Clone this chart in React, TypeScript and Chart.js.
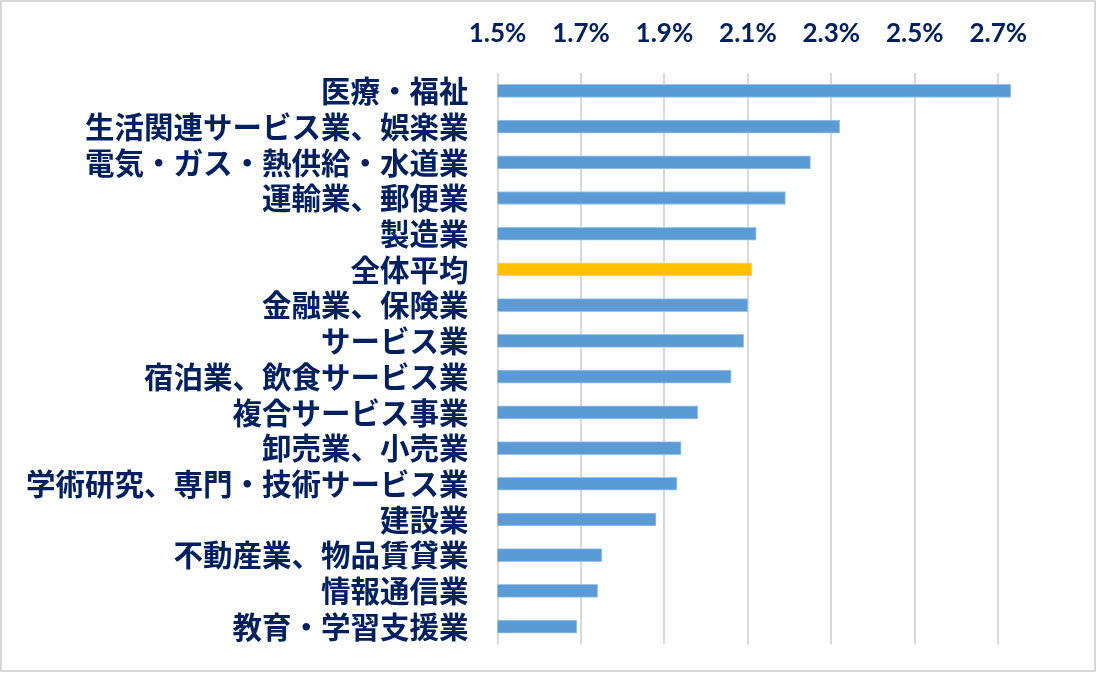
import React, { useEffect, useRef } from "react";
import { Chart, registerables } from "chart.js";

Chart.register(...registerables);

const categories: string[] = [
  "医療・福祉",
  "生活関連サービス業、娯楽業",
  "電気・ガス・熱供給・水道業",
  "運輸業、郵便業",
  "製造業",
  "全体平均",
  "金融業、保険業",
  "サービス業",
  "宿泊業、飲食サービス業",
  "複合サービス事業",
  "卸売業、小売業",
  "学術研究、専門・技術サービス業",
  "建設業",
  "不動産業、物品賃貸業",
  "情報通信業",
  "教育・学習支援業",
];

const values: number[] = [
  2.73, 2.32, 2.25, 2.19, 2.12, 2.11, 2.1, 2.09, 2.06, 1.98, 1.94, 1.93, 1.88,
  1.75, 1.74, 1.69,
];

const tickValues: number[] = [1.5, 1.7, 1.9, 2.1, 2.3, 2.5, 2.7];

const axisMin = 1.5;
const axisMax = 2.8;

const highlightLabel = "全体平均";
const textColor = "#002060";

export default function App() {
  const ref = useRef<HTMLCanvasElement | null>(null);

  useEffect(() => {
    const canvas = ref.current;
    if (!canvas) return;
    const chart = new Chart(canvas, {
      type: "bar",
      data: {
        labels: categories,
        datasets: [
          {
            data: values,
            backgroundColor: categories.map((c) =>
              c === highlightLabel ? "#FFC000" : "#5B9BD5"
            ),
            borderColor: categories.map((c) =>
              c === highlightLabel ? "#FFD966" : "#9DC3E6"
            ),
            borderWidth: 1,
            borderSkipped: false,
            barThickness: 13,
          },
        ],
      },
      options: {
        indexAxis: "y",
        animation: false,
        responsive: false,
        devicePixelRatio: 1,
        layout: { padding: { left: 0, right: 58, top: 0, bottom: 29.5 } },
        plugins: {
          legend: { display: false },
          tooltip: { enabled: false },
        },
        scales: {
          x: {
            type: "linear",
            position: "top",
            min: axisMin,
            max: axisMax,
            afterBuildTicks: (scale: any) => {
              scale.ticks = tickValues.map((v) => ({ value: v }));
            },
            afterFit: (scale: any) => {
              scale.height = 73;
              scale.paddingLeft = 0;
              scale.paddingRight = 0;
            },
            ticks: {
              autoSkip: false,
              maxRotation: 0,
              padding: 24,
              color: textColor,
              font: { family: "Lato", weight: "bold", size: 26 },
              callback: (v: any) => Number(v).toFixed(1) + "%",
            },
            grid: {
              color: "#D9D9D9",
              lineWidth: 2,
              drawTicks: false,
            },
            border: { display: false },
          },
          y: {
            afterFit: (scale: any) => {
              scale.width = 497.5;
              scale.paddingTop = 0;
              scale.paddingBottom = 0;
            },
            ticks: {
              autoSkip: false,
              padding: 29,
              color: textColor,
              font: { family: "'Noto Sans CJK JP'", weight: "bold", size: 29.5 },
            },
            grid: { display: false, drawTicks: false },
            border: { display: false },
          },
        },
      },
    } as any);
    return () => chart.destroy();
  }, []);

  return (
    <div
      style={{
        position: "absolute",
        left: 0,
        top: 0,
        width: 1098,
        height: 674,
        background: "#ffffff",
      }}
    >
      <canvas
        ref={ref}
        width={1098}
        height={674}
        style={{ position: "absolute", left: 0, top: 0, width: 1098, height: 674 }}
      />
      <div
        style={{
          position: "absolute",
          left: 0,
          top: 0,
          width: 1096,
          height: 672,
          border: "2px solid #D9D9D9",
          boxSizing: "border-box",
          pointerEvents: "none",
        }}
      />
    </div>
  );
}
